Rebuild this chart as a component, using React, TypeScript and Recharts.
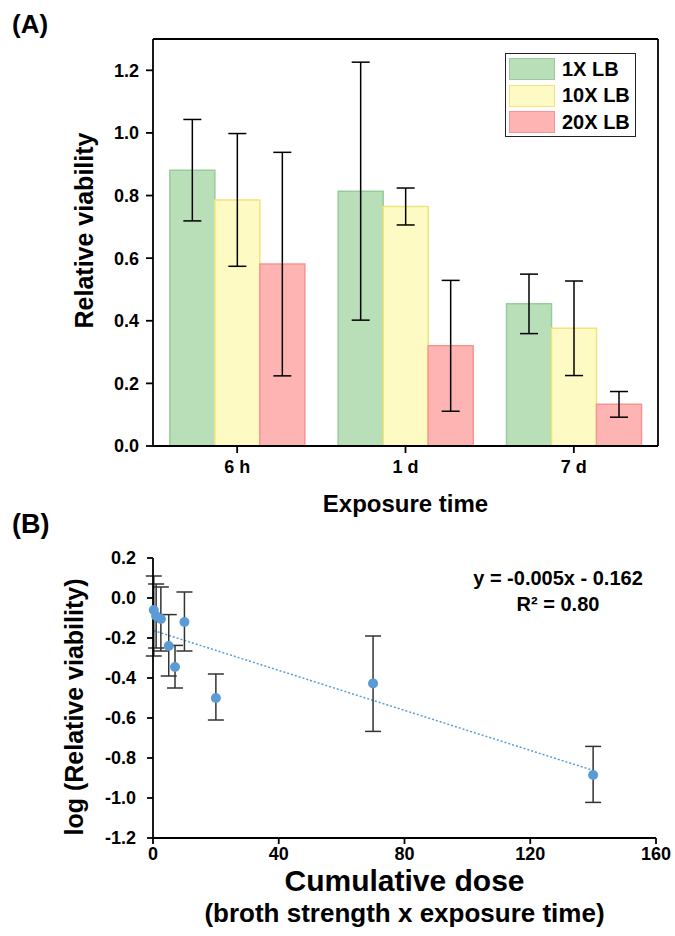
import React from "react";
import {
  BarChart,
  Bar,
  XAxis,
  YAxis,
  ErrorBar,
  Legend,
  Label,
  ScatterChart,
  Scatter,
  ReferenceLine,
} from "recharts";

const FONT = '"Liberation Sans", Arial, sans-serif';
const INK = "#000";

// ── (A) relative viability per exposure time ─────────────────────────────
const times = ["6 h", "1 d", "7 d"];
const lb1 = [0.881, 0.814, 0.454];
const lb1Sd = [0.162, 0.412, 0.095];
const lb10 = [0.786, 0.765, 0.376];
const lb10Sd = [0.212, 0.059, 0.151];
const lb20 = [0.581, 0.32, 0.133];
const lb20Sd = [0.357, 0.209, 0.041];
const viabilityTicks = [0, 0.2, 0.4, 0.6, 0.8, 1.0, 1.2];
const viabilityMinorTicks = [0.1, 0.3, 0.5, 0.7, 0.9, 1.1];
const viabilityRightTicks = [0.1, 0.2, 0.3, 0.4, 0.5, 0.6, 0.7, 0.8, 0.9, 1.0, 1.1, 1.2];
const groupTopTicks = [0.5, 1, 1.5, 2, 2.5];
const groupEdgeTicks = [1, 2];

// ── (B) log viability vs cumulative dose ─────────────────────────────────
const dose = [0.25, 1, 2.5, 5, 7, 10, 20, 70, 140];
const logViability = [-0.06, -0.09, -0.105, -0.24, -0.345, -0.12, -0.5, -0.427, -0.885];
const logLow = [-0.29, -0.25, -0.265, -0.39, -0.45, -0.265, -0.61, -0.667, -1.022];
const logHigh = [0.11, 0.07, 0.055, -0.083, -0.237, 0.03, -0.38, -0.19, -0.742];
const doseTicks = [0, 40, 80, 120, 160];
const logTicks = [-1.2, -1.0, -0.8, -0.6, -0.4, -0.2, 0, 0.2];
const trendX = [0.25, 140];
const trendY = [-0.163, -0.862];

const SERIES = [
  { key: "lb1", name: "1X LB", fill: "#b9dfb9", stroke: "#9acb9a" },
  { key: "lb10", name: "10X LB", fill: "#fdfbc3", stroke: "#efe57a" },
  { key: "lb20", name: "20X LB", fill: "#ffb4b4", stroke: "#fb9292" },
];

const barData = times.map((t, i) => ({
  time: t,
  lb1: lb1[i],
  lb1Err: lb1Sd[i],
  lb10: lb10[i],
  lb10Err: lb10Sd[i],
  lb20: lb20[i],
  lb20Err: lb20Sd[i],
}));

const scatterData = dose.map((x, i) => ({
  x,
  y: logViability[i],
  err: [logViability[i] - logLow[i], logHigh[i] - logViability[i]],
}));

const tickStyle = { fontSize: 18, fontWeight: 700, fill: INK, fontFamily: FONT };
const axisStroke = { stroke: INK, strokeWidth: 1.8 };

function renderLegend() {
  return (
    <div
      style={{
        width: 131,
        height: 84,
        boxSizing: "border-box",
        border: "1.5px solid #222",
        padding: "2px 3px",
        background: "#fff",
        fontFamily: FONT,
      }}
    >
      {SERIES.map((s) => (
        <div key={s.key} style={{ display: "flex", alignItems: "center", height: 26.5 }}>
          <span
            style={{
              width: 46,
              height: 22,
              boxSizing: "border-box",
              background: s.fill,
              border: `1.5px solid ${s.stroke}`,
            }}
          />
          <span style={{ marginLeft: 7, fontSize: 20, fontWeight: 700, color: INK }}>{s.name}</span>
        </div>
      ))}
    </div>
  );
}

function verticalTitle(text: string, dx: number, dy: number) {
  return (props: any) => {
    const vb = props.viewBox;
    const x = vb.x + dx;
    const y = vb.y + vb.height / 2 + dy;
    return (
      <text
        x={x}
        y={y}
        transform={`rotate(-90, ${x}, ${y})`}
        textAnchor="middle"
        fontFamily={FONT}
        fontSize={25}
        fontWeight={700}
        fill={INK}
      >
        {text}
      </text>
    );
  };
}

function ViabilityBars() {
  return (
    <BarChart
      width={675}
      height={530}
      data={barData}
      margin={{ top: 39, right: 17, bottom: 82, left: 151 }}
      barGap={0}
      barCategoryGap="10%"
    >
      <XAxis
        dataKey="time"
        height={1}
        tickSize={7}
        tickMargin={7}
        tick={tickStyle}
        axisLine={axisStroke}
        tickLine={axisStroke}
      >
        <Label
          content={(props: any) => {
            const vb = props.viewBox;
            return (
              <text
                x={vb.x + vb.width / 2}
                y={vb.y + 66}
                textAnchor="middle"
                fontFamily={FONT}
                fontSize={24}
                fontWeight={700}
                fill={INK}
              >
                Exposure time
              </text>
            );
          }}
        />
      </XAxis>
      <XAxis
        xAxisId="edges"
        type="number"
        domain={[0, 3]}
        ticks={groupEdgeTicks}
        height={1}
        tickSize={4}
        tick={false}
        axisLine={false}
        tickLine={axisStroke}
      />
      <XAxis
        xAxisId="top"
        type="number"
        orientation="top"
        mirror
        domain={[0, 3]}
        ticks={groupTopTicks}
        height={1}
        tickSize={7}
        tick={false}
        axisLine={axisStroke}
        tickLine={axisStroke}
      />
      <YAxis
        domain={[0, 1.3]}
        ticks={viabilityTicks}
        width={1}
        tickSize={7}
        tickMargin={7}
        tick={tickStyle}
        tickFormatter={(v: number) => v.toFixed(1)}
        axisLine={axisStroke}
        tickLine={axisStroke}
      >
        <Label content={verticalTitle("Relative viability", -59, -12)} />
      </YAxis>
      <YAxis
        yAxisId="minor"
        domain={[0, 1.3]}
        ticks={viabilityMinorTicks}
        width={1}
        tickSize={4}
        tick={false}
        axisLine={false}
        tickLine={axisStroke}
      />
      <YAxis
        yAxisId="right"
        orientation="right"
        mirror
        domain={[0, 1.3]}
        ticks={viabilityRightTicks}
        width={1}
        tickSize={7}
        tick={false}
        axisLine={axisStroke}
        tickLine={axisStroke}
      />
      <Legend
        layout="horizontal"
        verticalAlign="middle"
        align="center"
        content={renderLegend}
        wrapperStyle={{ top: 53, left: 505, width: 131, height: 84 }}
      />
      {SERIES.map((s) => (
        <Bar
          key={s.key}
          dataKey={s.key}
          name={s.name}
          fill={s.fill}
          stroke={s.stroke}
          strokeWidth={1.5}
          isAnimationActive={false}
        >
          <ErrorBar dataKey={`${s.key}Err`} width={9} stroke={INK} strokeWidth={1.5} direction="y" />
        </Bar>
      ))}
    </BarChart>
  );
}

function DoseScatter() {
  return (
    <ScatterChart
      width={675}
      height={416}
      margin={{ top: 38, right: 19, bottom: 97, left: 152 }}
    >
      <XAxis
        type="number"
        dataKey="x"
        domain={[0, 160]}
        ticks={doseTicks}
        height={1}
        tickSize={6}
        tickMargin={3}
        tick={tickStyle}
        axisLine={axisStroke}
        tickLine={axisStroke}
      >
        <Label
          content={(props: any) => {
            const vb = props.viewBox;
            const cx = vb.x + vb.width / 2;
            return (
              <text textAnchor="middle" fontFamily={FONT} fontWeight={700} fill={INK}>
                <tspan x={cx} y={vb.y + 53} fontSize={30}>
                  Cumulative dose
                </tspan>
                <tspan x={cx} y={vb.y + 84} fontSize={26}>
                  (broth strength x exposure time)
                </tspan>
              </text>
            );
          }}
        />
      </XAxis>
      <YAxis
        type="number"
        dataKey="y"
        domain={[-1.2, 0.2]}
        ticks={logTicks}
        width={1}
        tickSize={6}
        tickMargin={11}
        tick={tickStyle}
        tickFormatter={(v: number) => v.toFixed(1)}
        axisLine={axisStroke}
        tickLine={axisStroke}
      >
        <Label content={verticalTitle("log (Relative viability)", -69, 9)} />
      </YAxis>
      <ReferenceLine
        segment={[
          { x: trendX[0], y: trendY[0] },
          { x: trendX[1], y: trendY[1] },
        ]}
        stroke="#5b9bd5"
        strokeWidth={1.5}
        strokeDasharray="2 2"
        ifOverflow="visible"
      />
      <Scatter
        data={scatterData}
        fill="#5b9bd5"
        isAnimationActive={false}
        shape={(p: any) => <circle cx={p.cx} cy={p.cy} r={5} fill="#5b9bd5" />}
      >
        <ErrorBar dataKey="err" width={8} stroke="#333" strokeWidth={1.5} direction="y" />
      </Scatter>
    </ScatterChart>
  );
}

export default function App() {
  return (
    <div
      style={{
        position: "absolute",
        left: 0,
        top: 0,
        width: 675,
        height: 936,
        background: "#fff",
        fontFamily: FONT,
        overflow: "hidden",
      }}
    >
      <div style={{ position: "absolute", left: 0, top: 0 }}>
        <ViabilityBars />
      </div>
      <div style={{ position: "absolute", left: 0, top: 520 }}>
        <DoseScatter />
      </div>
      <div style={{ position: "absolute", left: 12, top: 11, fontSize: 26, fontWeight: 700, lineHeight: "26px" }}>
        (A)
      </div>
      <div style={{ position: "absolute", left: 12, top: 511, fontSize: 27, fontWeight: 700, lineHeight: "27px" }}>
        (B)
      </div>
      <div
        style={{
          position: "absolute",
          left: 458,
          top: 565,
          width: 200,
          textAlign: "center",
          fontSize: 20,
          fontWeight: 700,
          lineHeight: "26px",
        }}
      >
        <div>y = -0.005x - 0.162</div>
        <div>R² = 0.80</div>
      </div>
    </div>
  );
}
